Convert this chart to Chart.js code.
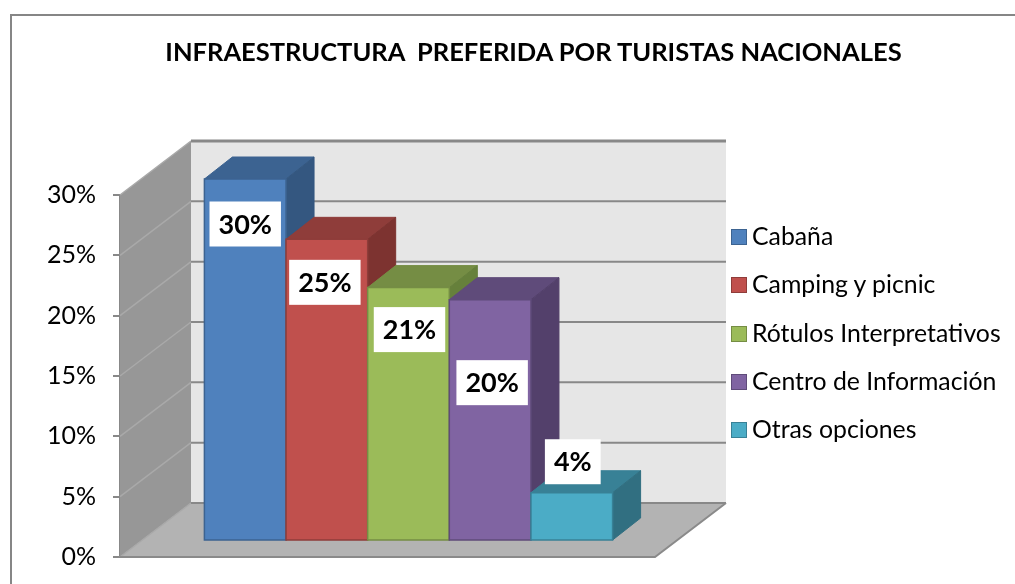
<!DOCTYPE html>
<html>
<head>
<meta charset="utf-8">
<script src="https://cdn.jsdelivr.net/npm/chart.js@4.4.1/dist/chart.umd.min.js"></script>
<style>
    body { margin: 0; background: #fff; }
    #wrap { position: relative; width: 1015px; height: 584px; overflow: hidden; }
    #frame { position: absolute; left: 10px; top: 14px; width: 1100px; height: 700px; border-left: 2px solid #868686; border-top: 2px solid #868686; }
    #title { position: absolute; left: 0; width: 1067px; top: 36px; text-align: center; font: bold 25.5px Lato; white-space: pre; color: #000; }
    #legend { position: absolute; left: 731px; top: 0; margin: 0; padding: 0; list-style: none; font: 24.8px Lato; color: #000; }
    #legend li { position: absolute; left: 0; height: 24px; line-height: 24px; white-space: nowrap; }
    #legend span.box { position: absolute; left: 0; top: 4px; width: 14px; height: 14px; border: 1px solid; }
    #legend span.txt { position: absolute; left: 21px; top: -1px; }
    canvas { position: absolute; left: 0; top: 0; }
</style>
</head>
<body>
<div id="wrap">
    <div id="frame"></div>
    <canvas id="chart" width="1015" height="584"></canvas>
    <div id="title">INFRAESTRUCTURA  PREFERIDA POR TURISTAS NACIONALES</div>
    <ul id="legend"></ul>
</div>
<script>
const categories = ['Cabaña', 'Camping y picnic', 'Rótulos Interpretativos', 'Centro de Información', 'Otras opciones']
const values = [30, 25, 21, 20, 4]
const yTicks = [0, 5, 10, 15, 20, 25, 30]
const frontColors = ['#4F81BD', '#C0504D', '#9BBB59', '#8064A2', '#4BACC6']
const topColors = ['#3C6391', '#8F3D3A', '#758D44', '#5F4B7A', '#388196']
const sideColors = ['#345780', '#7D3330', '#66803B', '#53406B', '#316F81']

const ctx = document.getElementById('chart')
const legendList = document.getElementById('legend')

const poly = (c, pts, fill, stroke, lw) => {
    c.beginPath()
    pts.forEach((p, i) => i == 0 ? c.moveTo(p[0], p[1]) : c.lineTo(p[0], p[1]))
    c.closePath()
    if (fill) {
        c.fillStyle = fill
        c.fill()
    }
    if (stroke) {
        c.strokeStyle = stroke
        c.lineWidth = lw || 1
        c.stroke()
    }
}

const line = (c, pts, color, lw) => {
    c.beginPath()
    pts.forEach((p, i) => i == 0 ? c.moveTo(p[0], p[1]) : c.lineTo(p[0], p[1]))
    c.strokeStyle = color
    c.lineWidth = lw
    c.stroke()
}

// walls, floor and 3d bars are drawn here, the native flat bars are skipped
const bars3d = {
    id: 'bars3d',
    beforeDatasetsDraw(chart, args, opts) {
        const c = chart.ctx
        const a = chart.chartArea
        const y = chart.scales.y
        const [dx, dy] = opts.wallDepth

        c.save()
        poly(c, [[a.left, a.bottom], [a.left + dx, a.bottom + dy], [a.right + dx, a.bottom + dy], [a.right, a.bottom]], '#B3B3B3')
        poly(c, [[a.left, a.bottom], [a.left, a.top], [a.left + dx, a.top + dy], [a.left + dx, a.bottom + dy]], '#979797')
        poly(c, [[a.left + dx, a.top + dy], [a.right + dx, a.top + dy], [a.right + dx, a.bottom + dy], [a.left + dx, a.bottom + dy]], '#E6E6E6')

        y.ticks.forEach(t => {
            const py = y.getPixelForValue(t.value)
            line(c, [[a.left, py], [a.left + dx, py + dy]], '#A9A9A9', 1.5)
            line(c, [[a.left + dx, py + dy], [a.right + dx, py + dy]], '#888888', t.value == 30 ? 3 : 2)
        })
        line(c, [[a.left, a.bottom], [a.right, a.bottom], [a.right + dx, a.bottom + dy]], '#8A8A8A', 2)

        const [ox, oy] = opts.barOffset
        const [bx, by] = opts.barDepth
        chart.data.datasets.forEach((ds, i) => {
            const el = chart.getDatasetMeta(i).data[0]
            const p = el.getProps(['x', 'y', 'base', 'width'], true)
            const l = p.x - p.width / 2 + ox
            const r = p.x + p.width / 2 + ox
            const t = p.y + oy
            const b = p.base + oy

            poly(c, [[l, t], [l + bx, t + by], [r + bx, t + by], [r, t]], topColors[i], topColors[i], 1)
            poly(c, [[r, t], [r + bx, t + by], [r + bx, b + by], [r, b]], sideColors[i], sideColors[i], 1)
            poly(c, [[l, t], [r, t], [r, b], [l, b]], ds.backgroundColor, ds.borderColor, 1.5)
        })
        c.restore()
    },
    beforeDatasetDraw() {
        return false
    },
    afterDatasetsDraw(chart, args, opts) {
        const c = chart.ctx
        const [ox, oy] = opts.barOffset

        c.save()
        c.font = 'bold 27px Lato'
        c.textAlign = 'center'
        c.textBaseline = 'middle'
        chart.data.datasets.forEach((ds, i) => {
            const el = chart.getDatasetMeta(i).data[0]
            const p = el.getProps(['x', 'y'], true)
            const text = `${ds.data[0]}%`
            const w = c.measureText(text).width + 18
            const h = 45
            const cx = p.x + ox + opts.labelShift[i][0]
            const cy = p.y + oy + opts.labelShift[i][1]
            c.fillStyle = '#fff'
            c.fillRect(cx - w / 2, cy - h / 2, w, h)
            c.fillStyle = '#000'
            c.fillText(text, cx, cy + 1)
        })
        c.restore()
    }
}

const chart = new Chart(ctx, {
    type: 'bar',
    data: {
        labels: [''],
        datasets: categories.map((name, i) => ({
            label: name,
            data: [values[i]],
            backgroundColor: frontColors[i],
            borderColor: topColors[i],
            borderWidth: 1
        }))
    },
    options: {
        responsive: false,
        animation: false,
        events: [],
        categoryPercentage: 0.763,
        barPercentage: 1,
        layout: {
            padding: { left: 0, top: 195, right: 360, bottom: 27 }
        },
        scales: {
            x: { display: false },
            y: {
                min: 0,
                max: 30,
                afterBuildTicks: scale => {
                    scale.ticks = yTicks.map(v => ({ value: v }))
                },
                afterFit: scale => {
                    scale.width = 120
                    scale.paddingTop = 0
                    scale.paddingBottom = 0
                },
                ticks: {
                    padding: 17,
                    color: '#000',
                    font: { family: 'Lato', size: 25 },
                    callback: v => `${v}%`
                },
                grid: {
                    drawOnChartArea: false,
                    drawTicks: true,
                    tickLength: 7,
                    color: '#888888',
                    lineWidth: 2
                },
                border: { display: true, color: '#888888', width: 2 }
            }
        },
        plugins: {
            legend: { display: false },
            tooltip: { enabled: false },
            bars3d: {
                wallDepth: [71, -54],
                barOffset: [21, -16],
                barDepth: [28, -22],
                labelShift: [[0, 45], [-2, 43], [1, 42], [2, 83], [1, -31]]
            }
        }
    },
    plugins: [bars3d]
})

const loadLegend = () => {
    legendList.innerHTML = ''
    Chart.defaults.plugins.legend.labels.generateLabels(chart).forEach((item, i) => {
        let li = document.createElement('li')
        li.style.top = `${237 + i * 48.3 - 12}px`
        let box = document.createElement('span')
        box.classList.add('box')
        box.style.background = item.fillStyle
        box.style.borderColor = item.strokeStyle
        let txt = document.createElement('span')
        txt.classList.add('txt')
        txt.textContent = item.text
        li.appendChild(box)
        li.appendChild(txt)
        legendList.appendChild(li)
    })
}

loadLegend()
</script>
</body>
</html>
